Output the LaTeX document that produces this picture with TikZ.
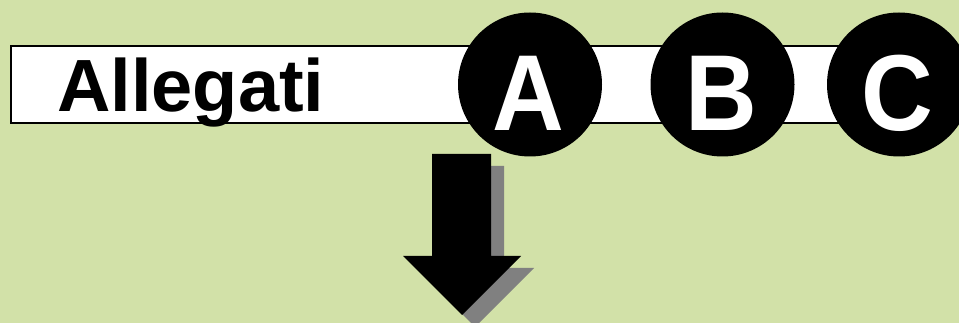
\documentclass[tikz,border=0pt]{standalone}
\usepackage{fontspec}
\setmainfont{Liberation Sans}
\definecolor{bggreen}{RGB}{210,225,168}
\definecolor{shadowgray}{RGB}{128,128,128}
\begin{document}
\begin{tikzpicture}[x=1pt,y=-1pt,
  barbox/.style={draw=black,line width=2pt,fill=white},
  disc/.style={circle,fill=black,inner sep=0pt,minimum size=144pt},
  letter/.style={text=white,inner sep=0pt,anchor=base,font=\bfseries\fontsize{108}{110}\selectfont,xscale=0.92},
  title/.style={text=black,inner sep=0pt,anchor=base west,font=\bfseries\fontsize{74}{80}\selectfont},
  arrowbody/.style={fill=black},
  arrowshadow/.style={fill=shadowgray}]
\fill[bggreen] (0,0) rectangle (959,323);
\useasboundingbox (0,0) rectangle (959,323);
% bar
\draw[barbox] (11,46) rectangle (900,123);
\node[title] (allegati) at (57,112) {Allegati};
% circles
\node[disc] (cA) at (530,84.5) {};
\node[disc] (cB) at (722.5,84.5) {};
\node[disc] (cC) at (899,84.5) {};
\node[letter] (lA) at (528,131) {A};
\node[letter] (lB) at (721,131) {B};
\node[letter] (lC) at (897,131) {C};
% arrow with shadow
\fill[arrowshadow,shift={(13,12)}] (432,154) -- (491,154) -- (491,256) -- (521,256) -- (462,315) -- (403,256) -- (432,256) -- cycle;
\fill[arrowbody] (432,154) -- (491,154) -- (491,256) -- (521,256) -- (462,315) -- (403,256) -- (432,256) -- cycle;
\end{tikzpicture}
\end{document}
